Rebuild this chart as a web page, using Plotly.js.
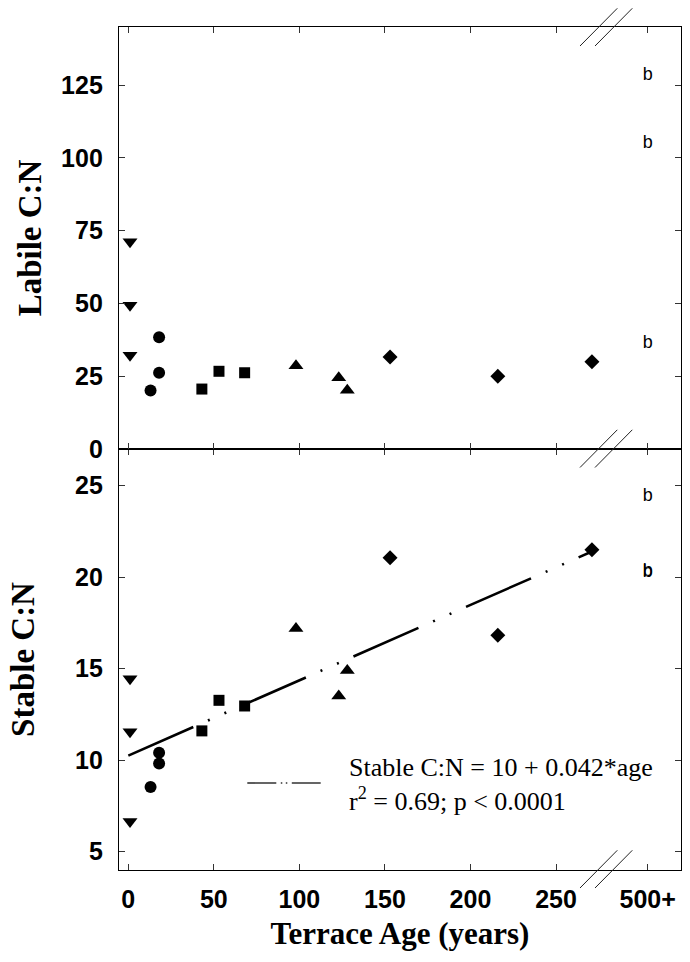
<!DOCTYPE html>
<html>
<head>
<meta charset="utf-8">
<script src="https://cdn.plot.ly/plotly-3.0.1.min.js"></script>
<style>html,body{margin:0;padding:0;background:#fff;}#chart{width:690px;height:962px;}</style>
</head>
<body>
<div id="chart"></div>
<script>
// ---------- data ----------
// Terrace ages (years) per site group
const ageYoungest = [1, 1, 1];          // down triangles
const ageCircle   = [13, 18, 18];
const ageSquare   = [43, 53, 68];
const ageTriangle = [98, 123, 128];
const ageDiamond  = [153, 216, 271];

// Labile C:N
const labileYoungest = [71.2, 49.4, 32.2];
const labileCircle   = [20.1, 38.4, 26.2];
const labileSquare   = [20.6, 26.7, 26.2];
const labileTriangle = [28.6, 24.5, 20.2];
const labileDiamond  = [31.6, 25.0, 30.0];

// Stable C:N
const stableYoungest = [14.45, 11.55, 6.65];
const stableCircle   = [8.54, 10.4, 9.82];
const stableSquare   = [11.6, 13.27, 12.96];
const stableTriangle = [17.2, 13.5, 14.9];
const stableDiamond  = [21.06, 16.82, 21.5];

// Regression line (Stable C:N = 10 + 0.042*age), endpoints as drawn
const fitAge = [0, 271];
const fitStable = [10.25, 21.4];

// "500+" (mature) labels
const matureLabel = 'b';
const matureLabileB = [128.5, 105, 36.1];
const matureStableB = [24.4, 20.3, 20.24];

// x tick labels
const xTickText = ['0', '50', '100', '150', '200', '250', '500+'];
const xTickPos  = [0, 50, 100, 150, 200, 250, 303.6];
const MATURE_X = 303.6;

// ---------- helpers ----------
const W = 690, H = 962;
const M = {l: 119, r: 9, t: 27, b: 92};
const PW = W - M.l - M.r, PH = H - M.t - M.b;
const px2x = p => (p - M.l) / PW;
const py2y = p => (H - M.b - p) / PH;
const SPLIT = py2y(449);

const blk = '#000';
const mk = (sym, size) => ({symbol: sym, size: size, color: blk, line: {width: 0}});

function group(xs, ys, sym, size, xa, ya) {
  return {x: xs, y: ys, type: 'scatter', mode: 'markers', marker: mk(sym, size),
          xaxis: xa, yaxis: ya, hoverinfo: 'skip', cliponaxis: false};
}

const bFont = {family: 'Liberation Sans, Arial, sans-serif', size: 18, color: blk};

const traces = [
  // top panel (labile)
  group(ageYoungest, labileYoungest, 'triangle-down', 13, 'x2', 'y2'),
  group(ageCircle, labileCircle, 'circle', 12, 'x2', 'y2'),
  group(ageSquare, labileSquare, 'square', 11, 'x2', 'y2'),
  group(ageTriangle, labileTriangle, 'triangle-up', 13, 'x2', 'y2'),
  group(ageDiamond, labileDiamond, 'diamond', 11.5, 'x2', 'y2'),
  {x: matureLabileB.map(() => MATURE_X), y: matureLabileB, type: 'scatter', mode: 'text',
   text: matureLabileB.map(() => matureLabel), textposition: 'middle center',
   textfont: bFont, xaxis: 'x2', yaxis: 'y2', hoverinfo: 'skip'},
  // bottom panel (stable)
  {x: fitAge, y: fitStable, type: 'scatter', mode: 'lines',
   line: {color: blk, width: 2.6, dash: '71px,16px,2px,16px,2px,16px'},
   xaxis: 'x', yaxis: 'y', hoverinfo: 'skip'},
  group(ageYoungest, stableYoungest, 'triangle-down', 13, 'x', 'y'),
  group(ageCircle, stableCircle, 'circle', 12, 'x', 'y'),
  group(ageSquare, stableSquare, 'square', 11, 'x', 'y'),
  group(ageTriangle, stableTriangle, 'triangle-up', 13, 'x', 'y'),
  group(ageDiamond, stableDiamond, 'diamond', 11.5, 'x', 'y'),
  {x: matureStableB.map(() => MATURE_X), y: matureStableB, type: 'scatter', mode: 'text',
   text: matureStableB.map(() => matureLabel), textposition: 'middle center',
   textfont: bFont, xaxis: 'x', yaxis: 'y', hoverinfo: 'skip'}
];

const tickFont = {family: 'Liberation Sans, Arial, sans-serif', size: 25, color: blk, weight: 'bold'};
const serif = 'Liberation Serif, Times New Roman, serif';
const yTitleFont = {family: serif, size: 33, color: blk, weight: 'bold'};
const xTitleFont = {family: serif, size: 31, color: blk, weight: 'bold'};
const XR = [-5.44, 323.06];

const axBase = {
  showgrid: false, zeroline: false, showline: true, linecolor: blk, linewidth: 1.2,
  ticks: 'inside', ticklen: 6, tickwidth: 1, tickcolor: '#333', mirror: 'ticks',
  tickfont: tickFont, fixedrange: true
};

// break marks "//"
const shapes = [];
[27, 448.5, 869].forEach(c => {
  [0, 15].forEach(off => {
    shapes.push({type: 'line', xref: 'paper', yref: 'paper',
      x0: px2x(580 + off), y0: py2y(c + 19), x1: px2x(617.3 + off), y1: py2y(c - 18.7),
      line: {color: '#222', width: 1}});
  });
});
// legend line
shapes.push({type: 'line', xref: 'paper', yref: 'paper',
  x0: px2x(247.3), y0: py2y(783), x1: px2x(320.7), y1: py2y(783),
  line: {color: '#333', width: 1.6, dash: '29px,4.5px,1.5px,3.5px,1.5px,4.5px'}});

const legFont = {family: serif, size: 26, color: blk};
const annotations = [
  {xref: 'paper', yref: 'paper', x: px2x(347), y: py2y(767), xanchor: 'left', yanchor: 'middle',
   text: 'Stable C:N = 10 + 0.042*age', showarrow: false, font: legFont},
  {xref: 'paper', yref: 'paper', x: px2x(347), y: py2y(799), xanchor: 'left', yanchor: 'middle',
   text: 'r<sup>2</sup> = 0.69; p &lt; 0.0001', showarrow: false, font: legFont}
];

const layout = {
  width: W, height: H, margin: M, showlegend: false, hovermode: false,
  paper_bgcolor: '#fff', plot_bgcolor: '#fff',
  xaxis: Object.assign({}, axBase, {domain: [0, 1], anchor: 'y', range: XR,
    tickmode: 'array', tickvals: xTickPos, ticktext: xTickText, ticklabelstandoff: 7,
    title: {text: 'Terrace Age (years)', font: xTitleFont, standoff: 10}}),
  yaxis: Object.assign({}, axBase, {domain: [0, SPLIT], anchor: 'x', range: [4, 27],
    tickmode: 'array', tickvals: [5, 10, 15, 20, 25], ticklabelstandoff: 10,
    automargin: true,
    title: {text: 'Stable C:N', font: yTitleFont, standoff: 30}}),
  xaxis2: Object.assign({}, axBase, {domain: [0, 1], anchor: 'y2', range: XR,
    tickmode: 'array', tickvals: xTickPos, showticklabels: false}),
  yaxis2: Object.assign({}, axBase, {domain: [SPLIT, 1], anchor: 'x2', range: [0, 145],
    tickmode: 'array', tickvals: [0, 25, 50, 75, 100, 125], ticklabelstandoff: 10,
    automargin: true,
    title: {text: 'Labile C:N', font: yTitleFont, standoff: 9}}),
  shapes: shapes,
  annotations: annotations
};

Plotly.newPlot('chart', traces, layout, {staticPlot: true, displayModeBar: false});
</script>
</body>
</html>
